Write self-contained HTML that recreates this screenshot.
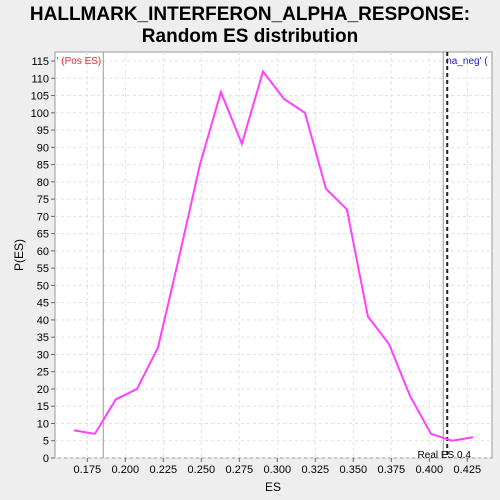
<!DOCTYPE html>
<html><head><meta charset="utf-8"><style>
body{margin:0;background:#eeeeee;font-family:"Liberation Sans",sans-serif;}
svg{display:block}
</style></head><body>
<svg id="c" width="500" height="500" xmlns="http://www.w3.org/2000/svg">
<rect width="500" height="500" fill="#eeeeee"/>
<text x="250" y="20" text-anchor="middle" font-size="19" font-weight="bold">HALLMARK_INTERFERON_ALPHA_RESPONSE:</text>
<text x="250" y="42" text-anchor="middle" font-size="19" font-weight="bold">Random ES distribution</text>
<rect x="55" y="52" width="437" height="406" fill="#ffffff" stroke="#999"/>
<g id="grid"></g><g id="axes"></g><g id="marks"></g>
<text x="273" y="491" text-anchor="middle" font-size="12">ES</text>
<text transform="translate(23,255) rotate(-90)" text-anchor="middle" font-size="12">P(ES)</text>
</svg>
<script>
const esValues=[0.1662,0.1800,0.1938,0.2077,0.2215,0.2353,0.2491,0.2629,0.2767,0.2906,0.3044,0.3182,0.3320,0.3458,0.3596,0.3735,0.3873,0.4011,0.4149,0.4288];
const pValues=[8,7,17,20,32,58,85,106,91,112,104,100,78,72,41,33,18,7,5,6];
const xTicks=[0.175,0.2,0.225,0.25,0.275,0.3,0.325,0.35,0.375,0.4,0.425];
const xTickLabels=["0.175","0.200","0.225","0.250","0.275","0.300","0.325","0.350","0.375","0.400","0.425"];
const yTicks=[0,5,10,15,20,25,30,35,40,45,50,55,60,65,70,75,80,85,90,95,100,105,110,115];
const posES=0.1855, realES=0.4118;
const NS="http://www.w3.org/2000/svg";
const X=v=>87.3+(v-0.175)*1520;
const Y=v=>458-v*3.452;
function mk(t,a,p){const e=document.createElementNS(NS,t);for(const k in a)e.setAttribute(k,a[k]);p.appendChild(e);return e;}
const grid=document.getElementById('grid'),axes=document.getElementById('axes'),marks=document.getElementById('marks');
yTicks.forEach(v=>{
 const g=mk('line',{x1:55,x2:492,y1:Y(v),y2:Y(v),stroke:'#e0e0e0','stroke-dasharray':'3,3'},grid);
 
 
 const t=mk('line',{x1:51,x2:55,y1:Y(v),y2:Y(v),stroke:'#666'},axes);
 
 
 const l=mk('text',{x:49,y:Y(v)+4,'text-anchor':'end','font-size':11},axes);l.textContent=v;
 
 
});
xTicks.forEach((v,i)=>{
 const g=mk('line',{x1:X(v),x2:X(v),y1:52,y2:458,stroke:'#e0e0e0','stroke-dasharray':'3,3'},grid);
 
 
 const t=mk('line',{x1:X(v),x2:X(v),y1:458,y2:462,stroke:'#666'},axes);
 
 
 const l=mk('text',{x:X(v),y:473,'text-anchor':'middle','font-size':11},axes);l.textContent=xTickLabels[i];
 
 
});
let e=mk('line',{x1:X(posES),x2:X(posES),y1:52,y2:458,stroke:'#999'},marks);


e=mk('text',{x:X(posES)-2,y:64,'text-anchor':'end','font-size':10,fill:'#e03030'},marks);e.textContent="' (Pos ES)";


e=mk('line',{x1:X(realES)-4,x2:X(realES)-4,y1:52,y2:458,stroke:'#999'},marks);


e=mk('text',{x:X(realES)-1,y:64,'font-size':10,fill:'#2020d0'},marks);e.textContent="na_neg' (";


e=mk('line',{x1:X(realES),x2:X(realES),y1:52,y2:458,stroke:'#222','stroke-width':2,'stroke-dasharray':'4,3'},marks);


e=mk('text',{x:X(realES)-3,y:458,'text-anchor':'middle','font-size':10},marks);e.textContent="Real ES 0.4";


e=mk('polyline',{points:esValues.map((v,i)=>X(v)+','+Y(pValues[i])).join(' '),fill:'none',stroke:'#ff40ff','stroke-width':2},marks);


</script>
</body></html>
